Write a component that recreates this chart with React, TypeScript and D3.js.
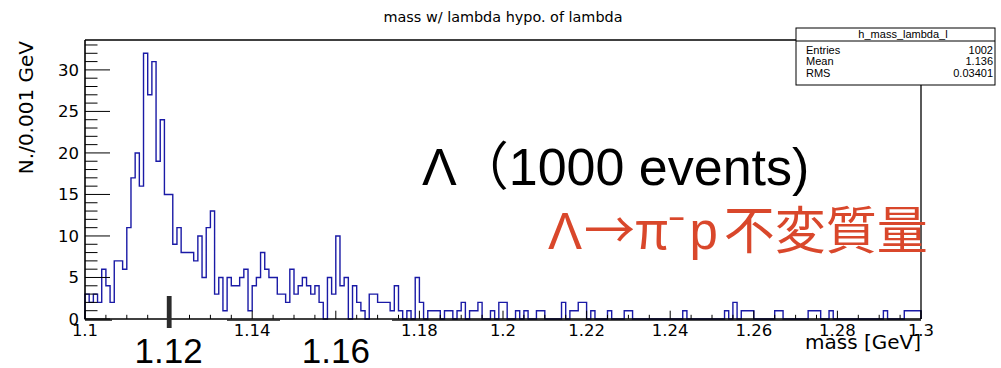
import React from "react";
import * as d3 from "d3";

// ---- data ----
const xMin = 1.1;
const xMax = 1.3;
const counts: number[] = [
  3, 2, 3, 2, 6, 4, 2, 7, 7, 6,
  11, 17, 20, 16, 32, 27, 31, 19, 24, 15,
  15, 9, 11, 8, 8, 8, 7, 10, 5, 11,
  13, 3, 5, 1, 5, 4, 4, 5, 6, 1,
  4, 5, 8, 6, 5, 5, 3, 3, 2, 6,
  3, 4, 5, 4, 3, 4, 2, 0, 5, 3,
  10, 4, 5, 0, 4, 2, 1, 0, 3, 3,
  2, 2, 2, 1, 4, 1, 0, 1, 0, 5,
  2, 0, 1, 1, 1, 0, 1, 1, 0, 1,
  2, 0, 1, 1, 2, 0, 0, 1, 0, 2,
  2, 0, 0, 1, 0, 1, 0, 0, 1, 1,
  0, 0, 0, 0, 2, 0, 1, 1, 2, 2,
  0, 1, 0, 0, 0, 1, 0, 0, 0, 1,
  1, 0, 0, 0, 0, 0, 0, 0, 0, 0,
  0, 0, 0, 1, 0, 0, 0, 0, 0, 0,
  0, 0, 0, 1, 0, 2, 0, 1, 1, 1,
  0, 0, 0, 0, 0, 1, 1, 0, 0, 0,
  0, 0, 0, 1, 1, 1, 0, 0, 1, 0,
  0, 0, 0, 0, 0, 0, 0, 0, 0, 0,
  0, 1, 0, 0, 0, 0, 1, 1, 1, 1,
];
const yMax = 33.6;
const yMajorTicks = [0, 5, 10, 15, 20, 25, 30];
const xLabelValues = [1.1, 1.14, 1.18, 1.2, 1.22, 1.24, 1.26, 1.28, 1.3];
const xLabelTexts = ["1.1", "1.14", "1.18", "1.2", "1.22", "1.24", "1.26", "1.28", "1.3"];
const bigTickValues = [1.12, 1.16];
const bigTickTexts = ["1.12", "1.16"];
const markValue = 1.12;
const title = "mass w/ lambda hypo. of lambda";
const xTitle = "mass [GeV]";
const yTitle = "N./0.001 GeV";
const statsName = "h_mass_lambda_l";
const statsLabels = ["Entries", "Mean", "RMS"];
const statsValues = ["1002", "1.136", "0.03401"];
const note1 = "Λ（1000 events)";
const note2Parts = ["Λ", "→π⁻", "p", "不変質量"];

const rootFont = "'DejaVu Sans', sans-serif";
const statFont = "'Liberation Sans', Arial, sans-serif";
const noteFont = "'Liberation Sans', 'Noto Sans CJK JP', sans-serif";
const cjkFont = "'Noto Sans CJK JP', sans-serif";

export default function App() {
  const L = 85, R = 921, T = 40, B = 319;
  const x = d3.scaleLinear().domain([xMin, xMax]).range([L, R]);
  const y = d3.scaleLinear().domain([0, yMax]).range([B, T]);
  const bw = (xMax - xMin) / counts.length;

  const pts: [number, number][] = [[xMin, 0]];
  counts.forEach((c, i) => {
    pts.push([xMin + i * bw, c]);
    pts.push([xMin + (i + 1) * bw, c]);
  });
  pts.push([xMax, 0]);
  const line = d3.line<[number, number]>().x((d) => x(d[0])).y((d) => y(d[1]));

  const yMinor = d3.range(0, 34, 1);
  const xMinor = d3.range(0, 41).map((i) => xMin + i * 0.005);

  return (
    <svg width={1001} height={368} style={{ position: "absolute", left: 0, top: 0, background: "#fff" }}>
      <rect x={0} y={0} width={1001} height={368} fill="#fff" />
      {/* title */}
      <text x={503} y={22} textAnchor="middle" fontFamily={rootFont} fontSize={14.4} fill="#000">{title}</text>

      {/* histogram */}
      <path d={line(pts) || ""} fill="none" stroke="#1a1aa6" strokeWidth={1.4} />

      {/* frame */}
      <line x1={L} y1={T} x2={R} y2={T} stroke="#000" strokeWidth={1.3} />
      <line x1={R} y1={T} x2={R} y2={B} stroke="#000" strokeWidth={1.3} />
      <line x1={L} y1={T} x2={L} y2={B + 0.5} stroke="#000" strokeWidth={1.6} />
      <line x1={L} y1={B} x2={R} y2={B} stroke="#000" strokeWidth={1.3} />
      {[[L, 112], [227, 280], [392, R]].map(([a, b], i) => (
        <line key={"ax" + i} x1={a} y1={B + 1.2} x2={b} y2={B + 1.2} stroke="#000" strokeWidth={1} />
      ))}

      {/* y ticks */}
      {yMinor.map((v) => (
        <line key={"ym" + v} x1={L} x2={L + (v % 5 === 0 ? 25 : 12.5)} y1={y(v)} y2={y(v)} stroke="#000" strokeWidth={1} />
      ))}
      {yMajorTicks.map((v) => (
        <text key={"yl" + v} x={79} y={y(v)} dy="0.36em" textAnchor="end" fontFamily={rootFont} fontSize={16.5} fill="#000">{v}</text>
      ))}
      {/* x ticks */}
      {xMinor.map((v, i) => (
        <line key={"xm" + i} x1={x(v)} x2={x(v)} y1={B} y2={B - (i % 4 === 0 ? 8.3 : 4.2)} stroke="#000" strokeWidth={1} />
      ))}
      {xLabelValues.map((v, i) => (
        <text key={"xl" + i} x={x(v)} y={336} textAnchor="middle" fontFamily={rootFont} fontSize={16.5} fill="#000">{xLabelTexts[i]}</text>
      ))}
      {/* axis titles */}
      <text x={R} y={349} textAnchor="end" fontFamily={rootFont} fontSize={20} fill="#000">{xTitle}</text>
      <text transform={`translate(33,${T + 1}) rotate(-90)`} textAnchor="end" fontFamily={rootFont} fontSize={20} fill="#000">{yTitle}</text>

      {/* mark at 1.12 */}
      <rect x={x(markValue) - 1.8} y={296} width={4.8} height={32} fill="#2b2b2b" />
      {bigTickValues.map((v, i) => (
        <text key={"bt" + i} x={x(v)} y={363} textAnchor="middle" fontFamily={noteFont} fontSize={35} fill="#000">{bigTickTexts[i]}</text>
      ))}

      {/* stats box */}
      <rect x={796} y={28} width={199} height={57} fill="#fff" stroke="#000" strokeWidth={1} />
      <line x1={796} x2={995} y1={41} y2={41} stroke="#000" strokeWidth={1} />
      <text x={903} y={38} textAnchor="middle" fontFamily={statFont} fontSize={11} fill="#000">{statsName}</text>
      {statsLabels.map((s, i) => (
        <g key={"st" + i}>
          <text x={806} y={53.5 + i * 11.5} fontFamily={statFont} fontSize={11} fill="#000">{s}</text>
          <text x={993} y={53.5 + i * 11.5} textAnchor="end" fontFamily={statFont} fontSize={11} fill="#000">{statsValues[i]}</text>
        </g>
      ))}

      {/* annotations */}
      <text x={422} y={185} fontFamily={noteFont} fontSize={52} fill="#000">{note1}</text>
      <text x={548} y={249} fontSize={51} fill="#d9472b">
        <tspan fontFamily={noteFont}>{note2Parts[0]}</tspan>
        <tspan fontFamily={cjkFont} dx={2}>{note2Parts[1]}</tspan>
        <tspan fontFamily={noteFont} dx={4}>{note2Parts[2]}</tspan>
        <tspan fontFamily={cjkFont} dx={6}>{note2Parts[3]}</tspan>
      </text>
    </svg>
  );
}
